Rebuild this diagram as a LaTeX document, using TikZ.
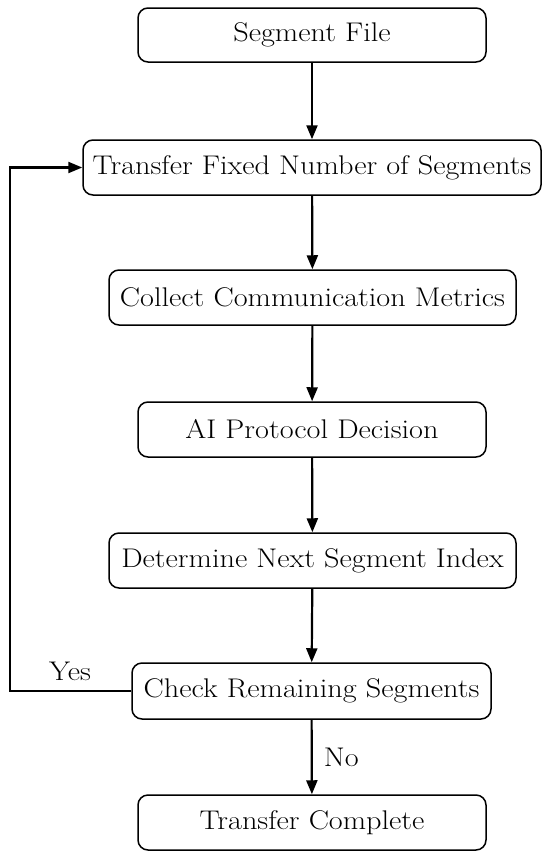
\documentclass[tikz,border=0pt]{standalone}
\usepackage{fontspec}
\setmainfont{Latin Modern Roman}[FakeStretch=1.12]
\usetikzlibrary{arrows.meta}
\begin{document}
\begin{tikzpicture}[x=1pt,y=-1pt,
  box/.style={draw, line width=1.5pt, rounded corners=10pt, font=\fontsize{27}{30}\selectfont, inner sep=0pt},
  conn/.style={line width=2.2pt, -{Stealth[length=14pt,width=11pt,inset=0pt]}},
  lbl/.style={font=\fontsize{27}{30}\selectfont, inner sep=0pt}]
\useasboundingbox (0,0) rectangle (550,863);
\node[box, minimum width=348pt, minimum height=54pt] (a) at (312,35) {Segment File};
\node[box, minimum width=458pt, minimum height=55pt] (b) at (312,167.5) {Transfer Fixed Number of Segments};
\node[box, minimum width=407pt, minimum height=55pt] (c) at (312.5,297.5) {Collect Communication Metrics};
\node[box, minimum width=348pt, minimum height=55pt] (d) at (312,429.5) {AI Protocol Decision};
\node[box, minimum width=407pt, minimum height=55pt] (e) at (312.5,560.5) {Determine Next Segment Index};
\node[box, minimum width=359pt, minimum height=56pt] (f) at (311.5,691) {Check Remaining Segments};
\node[box, minimum width=348pt, minimum height=55pt] (g) at (312,822.5) {Transfer Complete};
\coordinate (l1) at (10,691);
\coordinate (l2) at (10,167.5);
\draw[conn] (a) -- (b);
\draw[conn] (b) -- (c);
\draw[conn] (c) -- (d);
\draw[conn] (d) -- (e);
\draw[conn] (e) -- (f);
\draw[conn] (f) -- node[lbl, right=11pt] {No} (g);
\draw[conn] (f.west) -- (l1) -- (l2) -- (b.west);
\node[lbl] (yes) at (70,671) {Yes};
\end{tikzpicture}
\end{document}
